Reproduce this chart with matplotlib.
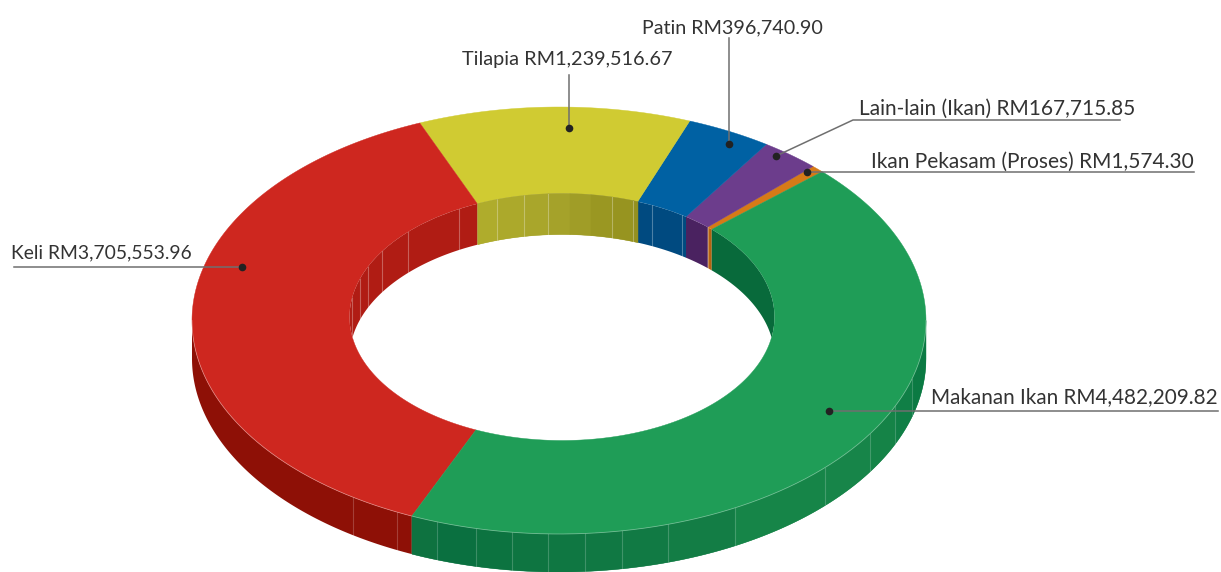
"""Ring chart with an extruded look, labels with leader lines."""
import numpy as np
import matplotlib
matplotlib.use("Agg")
import matplotlib.pyplot as plt
from matplotlib.patches import Ellipse

# ── Data ────────────────────────────────────────────────────────────────────
categories = ["Ikan Pekasam (Proses)", "Lain-lain (Ikan)", "Patin", "Tilapia", "Keli", "Makanan Ikan"]
amounts = ["RM1,574.30", "RM167,715.85", "RM396,740.90", "RM1,239,516.67", "RM3,705,553.96", "RM4,482,209.82"]
# slice shares as drawn in the picture (percent), going anticlockwise from the orange slice
shares = [0.556, 2.61, 3.76, 11.99, 37.24, 43.844]
top_colors = ["#D67A17", "#6C3D8C", "#0061A3", "#D0CB32", "#CE271F", "#1F9D57"]
inner_colors = ["#B5620F", "#4A2260", "#004A80", "#A5A22C", "#B01C14", "#086A3B"]
outer_colors = ["#B5620F", "#4A2260", "#004A80", "#A5A22C", "#8E1006", "#12804A"]
# how far the inner end of each boundary sits from its outer end, degrees
inner_offsets = [1, 0.5, -1.3, 0, 1.2, -0.25, 1]

# seams on the side walls, x position in the picture
outer_seams = [353, 397, 437, 476, 512, 548, 585, 622, 668, 735, 825, 870, 895, 912]
inner_seams = [352, 360, 368, 382, 408, 459, 497, 524, 548, 612, 633, 652, 682, 708]
# shading bands on the green front wall and the yellow back wall
green_band_x = [412, 437, 476, 512, 548, 585, 622, 668, 735, 825, 870, 895, 912, 926]
green_band_colors = ["#0E7240", "#0A7040", "#0C7340", "#0E7541", "#0F7742", "#107843", "#117A44",
                     "#137D45", "#168548", "#178549", "#158347", "#107F46", "#0B7A43"]
yellow_band_x = [478, 497, 524, 548, 570, 591, 612, 633, 638]
yellow_band_colors = ["#AFAC2C", "#ACA92B", "#A9A62B", "#A5A22A", "#A09D27", "#9A9722", "#979420", "#93901F"]
label_sizes = [15, 15, 14.2, 14.3, 13.9, 14.9]

# ── Geometry ────────────────────────────────────────────────────────────────
CX, CY = 559, 320.5
RX, RY = 367, 213.5
IX, IY, IRX, IRY = 562, 317, 212.5, 123.5
DEPTH = 38
IDEPTH = 41
START = 44.2


def arc(cx, cy, rx, ry, a1, a2, n=200):
    t = np.radians(np.linspace(a1, a2, n))
    return cx + rx * np.cos(t), cy - ry * np.sin(t)


def front_y(x):
    return CY + RY * np.sqrt(1 - np.clip((x - CX) / RX, -1, 1) ** 2)


def back_y(x):
    return IY - IRY * np.sqrt(1 - np.clip((x - IX) / IRX, -1, 1) ** 2)


fig, ax = plt.subplots(figsize=(12.21, 5.72), dpi=100)
ax.set_position([0, 0, 1, 1])
ax.set_xlim(0, 1221)
ax.set_ylim(572, 0)
ax.axis("off")

edges = START + np.concatenate([[0], np.cumsum(shares)]) * 3.6
inner_edges = edges + np.array(inner_offsets)

# ── Outer wall, only the front half shows ───────────────────────────────────
for i in range(len(shares)):
    p1, p2 = max(edges[i], 180), min(edges[i + 1], 360)
    if p2 > p1:
        x, y = arc(CX, CY, RX, RY, p1, p2)
        ax.fill(np.r_[x, x[::-1]], np.r_[y, y[::-1] + DEPTH], color=outer_colors[i], lw=0, zorder=1)

for k, col in enumerate(green_band_colors):
    x = np.linspace(green_band_x[k], green_band_x[k + 1], 60)
    y = front_y(x)
    ax.fill(np.r_[x, x[::-1]], np.r_[y, y[::-1] + DEPTH], color=col, lw=0.3, edgecolor=col, zorder=1.5)

for sx in outer_seams:
    y0 = front_y(sx)
    ax.plot([sx, sx], [y0, y0 + DEPTH], color="white", alpha=0.2, lw=0.8, zorder=2)

# ── Top face ────────────────────────────────────────────────────────────────
for i in range(len(shares)):
    ox, oy = arc(CX, CY, RX, RY, edges[i], edges[i + 1])
    nx, ny = arc(IX, IY, IRX, IRY, inner_edges[i], inner_edges[i + 1])
    ax.fill(np.r_[ox, nx[::-1]], np.r_[oy, ny[::-1]], color=top_colors[i], lw=0.3,
            edgecolor=top_colors[i], zorder=3)

# thin light rim where the top face meets the walls
rx, ry = arc(CX, CY, RX, RY, 180, 360, 400)
ax.plot(rx, ry, color="white", alpha=0.35, lw=0.6, zorder=3.5)

# ── Inner wall, only the back half shows ────────────────────────────────────
hole = Ellipse((IX, IY), 2 * IRX, 2 * IRY, transform=ax.transData)
reach = np.degrees(np.arcsin(IDEPTH / 2 / IRY))
for i in range(len(shares)):
    for shift in (0, 360):
        a1 = max(inner_edges[i] - shift, -reach)
        a2 = min(inner_edges[i + 1] - shift, 180 + reach)
        if a2 <= a1:
            continue
        x, y = arc(IX, IY, IRX, IRY, a1, a2)
        wall = ax.fill(np.r_[x, x[::-1]], np.r_[y, y[::-1] + IDEPTH], color=inner_colors[i], lw=0, zorder=4)[0]
        wall.set_clip_path(hole)

for k, col in enumerate(yellow_band_colors):
    x = np.linspace(yellow_band_x[k], yellow_band_x[k + 1], 30)
    y = back_y(x)
    ax.fill(np.r_[x, x[::-1]], np.r_[y, y[::-1] + IDEPTH], color=col, lw=0.3, edgecolor=col, zorder=4.5)

for sx in inner_seams:
    y0 = back_y(sx)
    seam = ax.plot([sx, sx], [y0, y0 + IDEPTH], color="white", alpha=0.3, lw=0.8, zorder=5)[0]
    seam.set_clip_path(hole)

# ── Labels and leader lines ─────────────────────────────────────────────────
LINE = "#6f6f6f"
DARK = "#222222"
leaders = [
    ([1194, 807], [172, 172]),
    ([1120, 853, 776], [120, 120, 156]),
    ([729, 729], [38, 144]),
    ([569, 569], [75, 128]),
    ([14, 242], [267, 267]),
    ([1218, 829], [411, 411]),
]
label_pos = [(1194, 168), (1135, 115), (823, 33), (672, 65), (192, 258), (1218, 403)]

for i in range(len(categories)):
    xs, ys = leaders[i]
    ax.plot(xs, ys, color=LINE, lw=1.1, zorder=6)
    ax.plot(xs[-1], ys[-1], "o", color=DARK, ms=5.5, mew=0, zorder=7)
    lx, ly = label_pos[i]
    ax.text(lx, ly, f"{categories[i]} {amounts[i]}", ha="right", va="baseline",
            fontsize=label_sizes[i], family="Lato", fontweight=400, color="#333333", zorder=8)

plt.savefig("out.png", dpi=100)
